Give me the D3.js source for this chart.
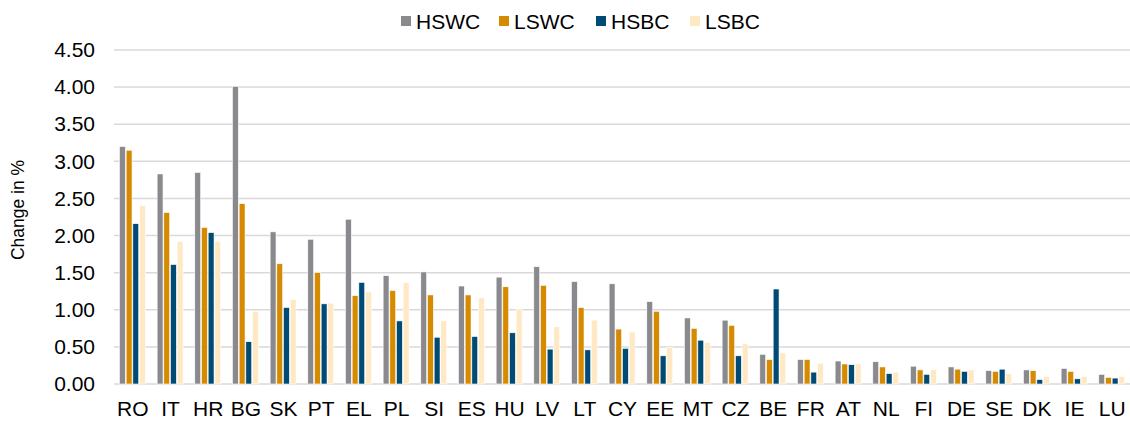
<!DOCTYPE html>
<html>
<head>
<meta charset="utf-8">
<script src="https://cdn.jsdelivr.net/npm/d3@7"></script>
<style>
  body { margin: 0; background: #fff; }
  text { font-family: Arial, "Liberation Sans", sans-serif; fill: #000; }
</style>
</head>
<body>
<div id="chart"></div>
<script>
const countries = ['RO', 'IT', 'HR', 'BG', 'SK', 'PT', 'EL', 'PL', 'SI', 'ES', 'HU', 'LV', 'LT', 'CY',
    'EE', 'MT', 'CZ', 'BE', 'FR', 'AT', 'NL', 'FI', 'DE', 'SE', 'DK', 'IE', 'LU'];
const seriesNames = ['HSWC', 'LSWC', 'HSBC', 'LSBC'];
const hswc = [3.20, 2.83, 2.85, 4.01, 2.05, 1.95, 2.22, 1.46, 1.51, 1.32, 1.44, 1.58, 1.38, 1.35,
    1.11, 0.89, 0.86, 0.40, 0.33, 0.31, 0.30, 0.24, 0.23, 0.18, 0.19, 0.21, 0.13];
const lswc = [3.15, 2.31, 2.11, 2.43, 1.62, 1.50, 1.19, 1.26, 1.20, 1.20, 1.31, 1.33, 1.03, 0.74,
    0.98, 0.75, 0.79, 0.33, 0.33, 0.27, 0.23, 0.19, 0.20, 0.17, 0.18, 0.17, 0.09];
const hsbc = [2.16, 1.61, 2.04, 0.57, 1.03, 1.08, 1.37, 0.85, 0.63, 0.64, 0.69, 0.47, 0.46, 0.48,
    0.38, 0.59, 0.38, 1.28, 0.16, 0.26, 0.14, 0.13, 0.17, 0.20, 0.06, 0.07, 0.08];
const lsbc = [2.40, 1.92, 1.92, 0.98, 1.14, 1.09, 1.24, 1.37, 0.85, 1.16, 1.01, 0.77, 0.86, 0.70,
    0.49, 0.56, 0.54, 0.42, 0.28, 0.27, 0.16, 0.19, 0.19, 0.14, 0.10, 0.10, 0.10];
const yTicks = [0, 0.5, 1, 1.5, 2, 2.5, 3, 3.5, 4, 4.5];

const colors = ['#8a898e', '#d68a00', '#004b76', '#ffe8c4'];
const allSeries = [hswc, lswc, hsbc, lsbc];

const width = 1130;
const height = 421;

const svg = d3.select('#chart')
    .append('svg')
    .attr('width', width)
    .attr('height', height);

const x0 = d3.scaleBand()
    .domain(countries)
    .range([114, 1131])
    .paddingInner(0.29)
    .paddingOuter(0.145);

const x1 = d3.scaleBand()
    .domain(seriesNames)
    .range([0, x0.bandwidth()]);

const y = d3.scaleLinear()
    .domain([0, 4.5])
    .range([384, 50]);

// gridlines
svg.append('g')
    .selectAll('line')
    .data(yTicks)
    .enter()
    .append('line')
    .attr('x1', 114)
    .attr('x2', 1131)
    .attr('y1', d => y(d))
    .attr('y2', d => y(d))
    .attr('stroke', '#d9d9d9')
    .attr('stroke-width', 1.5);

// y axis labels
const yAxis = svg.append('g')
    .attr('transform', 'translate(95,0)')
    .call(d3.axisLeft(y).tickValues(yTicks).tickFormat(d3.format('.2f')).tickSize(0).tickPadding(0));
yAxis.select('.domain').remove();
yAxis.selectAll('text')
    .attr('font-size', '21px')
    .attr('font-family', 'Arial, "Liberation Sans", sans-serif')
    .attr('fill', '#000');

svg.append('text')
    .attr('transform', 'translate(24,210) rotate(-90)')
    .attr('text-anchor', 'middle')
    .attr('font-size', '17.5px')
    .text('Change in %');

// bars
const groups = svg.append('g')
    .selectAll('g')
    .data(countries)
    .enter()
    .append('g')
    .attr('transform', d => `translate(${x0(d)},0)`);

groups.selectAll('rect')
    .data((c, i) => seriesNames.map((s, k) => ({ s, k, v: allSeries[k][i] })))
    .enter()
    .append('rect')
    .attr('x', d => x1(d.s))
    .attr('y', d => y(d.v))
    .attr('width', x1.bandwidth() - 0.8)
    .attr('height', d => y(0) - y(d.v))
    .attr('fill', d => colors[d.k])
    .attr('stroke', '#fff')
    .attr('stroke-width', 0.6);

// x axis labels
const xAxis = svg.append('g')
    .attr('transform', `translate(0,${y(0) + 15})`)
    .call(d3.axisBottom(x0).tickSize(0).tickPadding(2));
xAxis.select('.domain').remove();
xAxis.selectAll('text')
    .attr('font-size', '21px')
    .attr('font-family', 'Arial, "Liberation Sans", sans-serif')
    .attr('fill', '#000');

// legend
const legendX = [401, 499, 596, 690];
const legend = svg.append('g')
    .selectAll('g')
    .data(seriesNames)
    .enter()
    .append('g')
    .attr('transform', (d, i) => `translate(${legendX[i]},16)`);

legend.append('rect')
    .attr('width', 10)
    .attr('height', 10)
    .attr('fill', (d, i) => colors[i]);

legend.append('text')
    .attr('x', 15)
    .attr('y', 12.5)
    .attr('font-size', '21px')
    .text(d => d);
</script>
</body>
</html>
